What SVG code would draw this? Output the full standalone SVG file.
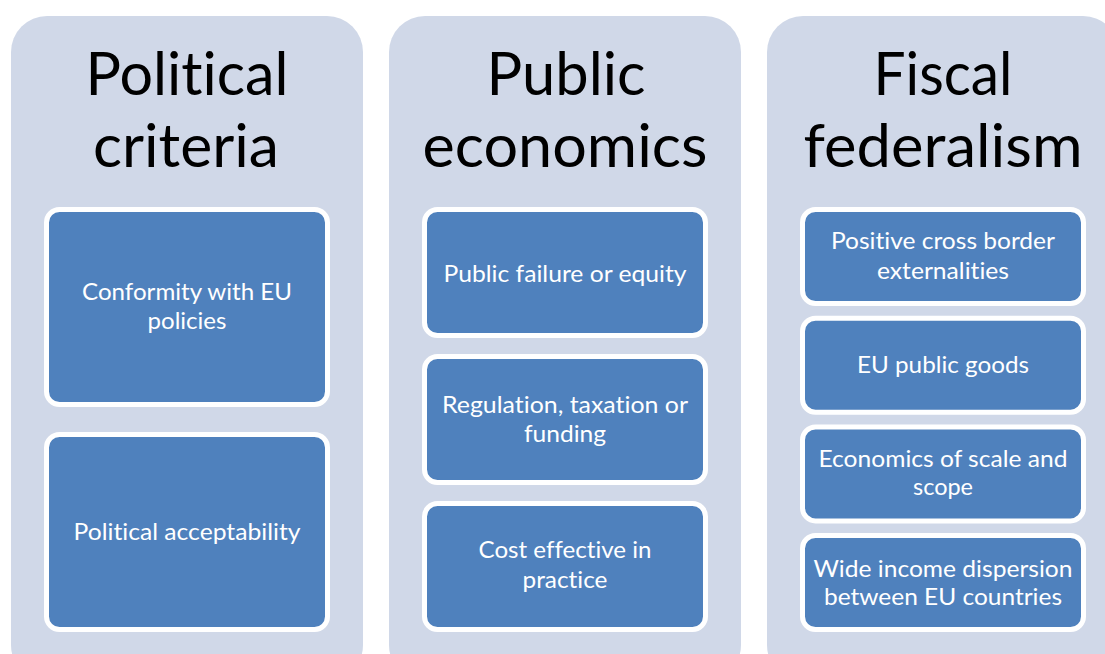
<svg xmlns="http://www.w3.org/2000/svg" width="1105" height="654" viewBox="0 0 1105 654">
  <style>
    .panel { fill: #D0D8E8; }
    .box { fill: #4F81BD; stroke: #FFFFFF; stroke-width: 5; }
    .head { font-family: Lato, "Open Sans", "Liberation Sans", sans-serif; font-size: 60px; fill: #000000; text-anchor: middle; font-variant-ligatures: none; }
    .item { font-family: Lato, "Open Sans", "Liberation Sans", sans-serif; font-size: 23px; fill: #FFFFFF; text-anchor: middle; font-variant-ligatures: none; }
  </style>
  <rect width="1105" height="654" fill="#FFFFFF"/>

  <!-- Column 1: Political criteria -->
  <g id="political-criteria">
    <rect class="panel" x="11" y="16" width="352" height="665" rx="36"/>
    <text class="head" x="187" y="95" textLength="203" lengthAdjust="spacingAndGlyphs">Political</text>
    <text class="head" x="186" y="167" textLength="186" lengthAdjust="spacingAndGlyphs">criteria</text>
  </g>
  <g id="conformity">
    <rect class="box" x="46.5" y="209.5" width="281" height="195" rx="13"/>
    <text class="item" x="187" y="300" textLength="210" lengthAdjust="spacingAndGlyphs">Conformity with EU</text>
    <text class="item" x="187" y="329" textLength="79" lengthAdjust="spacingAndGlyphs">policies</text>
  </g>
  <g id="acceptability">
    <rect class="box" x="46.5" y="434.5" width="281" height="195" rx="13"/>
    <text class="item" x="187" y="540" textLength="227" lengthAdjust="spacingAndGlyphs">Political acceptability</text>
  </g>

  <!-- Column 2: Public economics -->
  <g id="public-economics">
    <rect class="panel" x="389" y="16" width="352" height="665" rx="36"/>
    <text class="head" x="566" y="95" textLength="159" lengthAdjust="spacingAndGlyphs">Public</text>
    <text class="head" x="565" y="167" textLength="285" lengthAdjust="spacingAndGlyphs">economics</text>
  </g>
  <g id="failure-equity">
    <rect class="box" x="424.5" y="209.5" width="281" height="126" rx="13"/>
    <text class="item" x="565" y="282" textLength="243" lengthAdjust="spacingAndGlyphs">Public failure or equity</text>
  </g>
  <g id="regulation">
    <rect class="box" x="424.5" y="356.5" width="281" height="126" rx="13"/>
    <text class="item" x="565" y="413" textLength="246" lengthAdjust="spacingAndGlyphs">Regulation, taxation or</text>
    <text class="item" x="565" y="442" textLength="82" lengthAdjust="spacingAndGlyphs">funding</text>
  </g>
  <g id="cost-effective">
    <rect class="box" x="424.5" y="503.5" width="281" height="126" rx="13"/>
    <text class="item" x="565" y="558" textLength="173" lengthAdjust="spacingAndGlyphs">Cost effective in</text>
    <text class="item" x="565" y="588" textLength="85" lengthAdjust="spacingAndGlyphs">practice</text>
  </g>

  <!-- Column 3: Fiscal federalism -->
  <g id="fiscal-federalism">
    <rect class="panel" x="767" y="16" width="352" height="665" rx="36"/>
    <text class="head" x="943" y="95" textLength="139" lengthAdjust="spacingAndGlyphs">Fiscal</text>
    <text class="head" x="943" y="167" textLength="279" lengthAdjust="spacingAndGlyphs">federalism</text>
  </g>
  <g id="externalities">
    <rect class="box" x="802.5" y="209.5" width="281" height="94" rx="13"/>
    <text class="item" x="943" y="249" textLength="224" lengthAdjust="spacingAndGlyphs">Positive cross border</text>
    <text class="item" x="943" y="279" textLength="132" lengthAdjust="spacingAndGlyphs">externalities</text>
  </g>
  <g id="public-goods">
    <rect class="box" x="802.5" y="318.2" width="281" height="94" rx="13"/>
    <text class="item" x="943" y="373" textLength="172" lengthAdjust="spacingAndGlyphs">EU public goods</text>
  </g>
  <g id="scale-scope">
    <rect class="box" x="802.5" y="426.9" width="281" height="94" rx="13"/>
    <text class="item" x="943" y="467" textLength="249" lengthAdjust="spacingAndGlyphs">Economics of scale and</text>
    <text class="item" x="943" y="495" textLength="60" lengthAdjust="spacingAndGlyphs">scope</text>
  </g>
  <g id="income-dispersion">
    <rect class="box" x="802.5" y="535.5" width="281" height="94" rx="13"/>
    <text class="item" x="943" y="577" textLength="259" lengthAdjust="spacingAndGlyphs">Wide income dispersion</text>
    <text class="item" x="943" y="605" textLength="238" lengthAdjust="spacingAndGlyphs">between EU countries</text>
  </g>

  <!-- no connectors in this layout -->
  <g id="connectors"/>
</svg>
